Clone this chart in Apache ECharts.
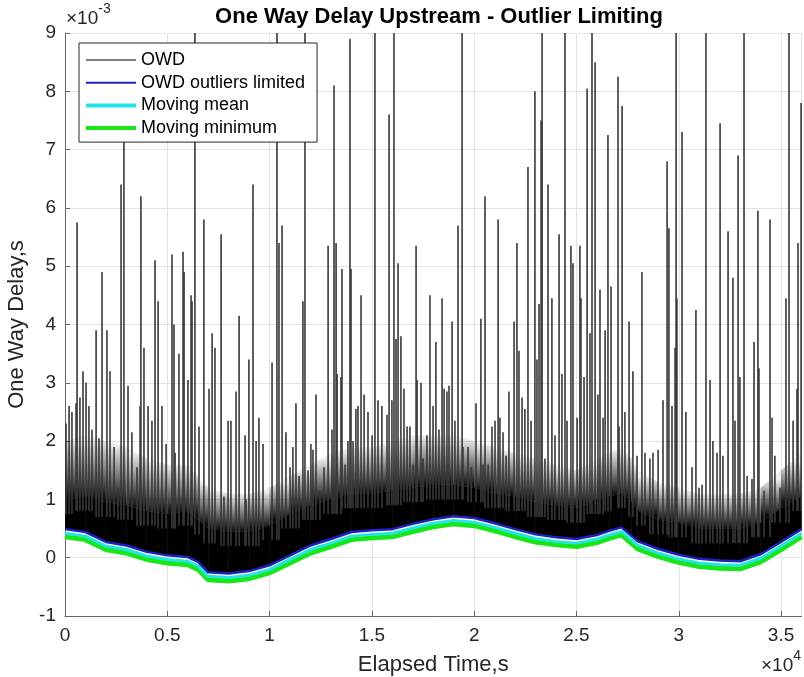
<!DOCTYPE html>
<html>
<head>
<meta charset="utf-8">
<script src="https://cdn.jsdelivr.net/npm/echarts@6/dist/echarts.min.js"></script>
<style>html,body{margin:0;padding:0;background:#fff}#c{width:804px;height:677px}</style>
</head>
<body>
<div id="c"></div>
<script>
// values in units of 1e-3 s (axis shows x10^-3), times in seconds
const curveTimes = [0,1000,2000,3000,4000,5000,6000,6500,7000,8000,9000,10000,11000,12000,13000,14000,15000,16000,17000,18000,19000,20000,21000,22000,23000,24000,25000,26000,26600,27200,27700,28000,29000,30000,31000,32000,33000,34000,35000,36000];
const movingMin = [0.36,0.31,0.14,0.08,-0.03,-0.09,-0.12,-0.2,-0.38,-0.40,-0.36,-0.26,-0.09,0.08,0.19,0.31,0.34,0.36,0.45,0.53,0.58,0.55,0.46,0.36,0.27,0.22,0.19,0.26,0.33,0.39,0.24,0.15,0.02,-0.08,-0.15,-0.18,-0.19,-0.07,0.14,0.36];
const movingMean = [0.42,0.37,0.20,0.14,0.03,-0.03,-0.06,-0.14,-0.32,-0.34,-0.30,-0.20,-0.03,0.14,0.25,0.37,0.40,0.42,0.51,0.59,0.64,0.61,0.52,0.42,0.33,0.28,0.25,0.32,0.39,0.45,0.30,0.21,0.08,-0.02,-0.09,-0.12,-0.13,-0.01,0.20,0.42];
const owdLimited = [0.49,0.44,0.27,0.21,0.10,0.04,0.01,-0.07,-0.25,-0.27,-0.23,-0.13,0.04,0.21,0.32,0.44,0.47,0.49,0.58,0.66,0.71,0.68,0.59,0.49,0.40,0.35,0.32,0.39,0.46,0.52,0.37,0.28,0.15,0.05,-0.02,-0.05,-0.06,0.06,0.27,0.49];
// top of the solid black OWD band, and top of the dense (semi-filled) OWD region
const owdBandTop = [1.0,1.05,0.95,0.9,0.8,0.75,0.8,0.65,0.5,0.45,0.45,0.55,0.75,0.9,1.0,1.1,1.1,1.15,1.2,1.25,1.25,1.2,1.1,1.05,0.95,0.9,0.85,1.0,1.05,1.1,0.95,0.8,0.65,0.6,0.5,0.5,0.5,0.6,0.85,1.05];
const owdDenseTop = [2.0,2.1,2.0,1.9,1.7,1.6,1.6,1.4,1.2,1.1,1.1,1.2,1.4,1.6,1.8,1.9,1.9,2.0,2.1,2.1,2.1,2.0,1.9,1.8,1.7,1.6,1.5,1.7,1.8,1.9,1.7,1.5,1.3,1.2,1.1,1.1,1.1,1.2,1.5,1.8];

const spikeTimes = [50,200,340,540,590,730,880,1030,1170,1320,1520,1660,1810,2050,2200,2400,2590,2740,2880,3080,3270,3520,3670,3710,3860,4060,4250,4400,4550,4740,4940,5230,5330,5380,5570,5770,5820,6010,6160,6210,6350,6550,6790,7040,7190,7330,7630,7770,7970,8110,8360,8510,8800,8850,8990,9190,9340,9480,9680,10120,10360,10460,10610,10800,11000,11140,11290,11440,11630,11730,11880,12020,12120,12270,12460,12660,12860,13050,13150,13250,13300,13490,13540,13690,13830,13930,13980,14080,14220,14320,14470,14620,14810,15010,15150,15300,15490,15740,15840,15980,16080,16180,16280,16420,16570,16720,16860,17010,17160,17210,17400,17500,17690,17840,17990,18130,18280,18430,18530,18670,18770,18920,19060,19210,19410,19450,19700,19850,20090,20330,20430,20530,20680,20870,21020,21170,21260,21410,21560,21700,21950,22090,22190,22340,22480,22630,22780,22970,23070,23170,23270,23320,23460,23610,23800,23950,24150,24290,24440,24540,24730,24830,25030,25170,25220,25370,25520,25660,25760,25910,26050,26150,26300,26400,26540,26690,27030,27080,27230,27370,27570,27760,27960,28200,28350,28590,28740,28990,29230,29430,29520,29670,29820,29870,29910,30160,30350,30650,30840,30990,31140,31330,31530,31670,31870,32020,32160,32410,32650,32750,32900,32990,33190,33340,33580,33680,33870,33920,34170,34460,34560,34700,34950,35240,35390,35590,35780,35830,35980];
const spikeValues = [2.3,2.6,2.5,2.65,5.75,2.75,3.2,3.0,2.6,2.2,3.9,2.05,4.9,3.9,3.2,1.9,1.2,6.4,7.5,2.95,2.15,1.55,2.6,6.2,3.6,2.6,2.35,5.1,4.4,2.6,1.95,5.2,4.0,1.8,3.5,5.25,4.9,3.05,4.5,4.4,9.8,2.25,5.8,2.9,3.85,3.6,5.55,1.05,2.35,2.35,2.85,4.15,2.1,1.0,3.4,6.4,2.0,2.4,1.95,3.35,9.8,5.4,5.7,2.15,1.55,1.9,2.65,1.4,4.4,9.8,1.5,1.95,1.85,2.8,1.15,1.55,5.35,2.2,8.1,5.4,3.15,3.1,4.95,1.6,2.0,8.9,4.95,2.0,2.55,2.6,4.5,2.8,2.5,2.1,9.8,2.7,2.6,2.45,7.6,2.7,9.8,3.75,5.05,3.8,2.9,2.25,2.25,1.6,5.35,3.05,3.0,1.7,2.1,4.5,2.6,3.7,2.2,4.45,2.9,2.85,2.95,4.05,2.35,5.7,9.8,1.9,1.9,1.55,2.65,4.1,1.6,6.2,1.6,2.25,2.35,5.8,2.4,2.15,1.75,2.85,4.05,5.4,3.55,2.75,2.55,6.7,2.35,8.0,3.4,4.35,7.5,9.8,1.7,6.4,4.45,2.1,5.55,3.15,9.8,2.35,5.35,5.05,2.4,5.35,4.45,3.1,8.05,3.85,9.8,8.5,2.8,4.6,2.4,3.9,7.25,4.65,8.25,2.25,7.75,2.5,4.05,3.2,1.75,4.9,1.8,1.7,1.8,1.85,2.7,6.8,5.65,2.6,3.6,9.8,4.45,7.3,2.5,1.55,4.25,1.2,1.25,9.8,3.05,2.0,1.8,7.45,1.75,5.6,4.8,2.35,6.9,3.1,9.8,1.4,1.35,3.7,5.95,3.25,1.15,5.8,2.4,1.75,1.2,4.45,9.8,2.35,2.9,5.4,7.8];

const xTicks = ['0','0.5','1','1.5','2','2.5','3','3.5'];

function nearestIdx(t){let b=0;for(let i=1;i<curveTimes.length;i++){if(Math.abs(curveTimes[i]-t)<Math.abs(curveTimes[b]-t))b=i;}return b;}
const pairs = (vals)=>curveTimes.map((t,i)=>[t,vals[i]]);
const segs = (lo, hi)=>curveTimes.slice(0,-1).map((t,i)=>[t, curveTimes[i+1], lo[i], lo[i+1], hi[i], hi[i+1]]);
const spikeData = spikeTimes.map((t,i)=>[t, owdBandTop[nearestIdx(t)]-0.25, spikeValues[i]]);

function bandItem(fillFn, strokeOn){
  return (params, api)=>{
    const a = api.coord([api.value(0), api.value(2)]);
    const b = api.coord([api.value(1), api.value(3)]);
    const c = api.coord([api.value(1), api.value(5)]);
    const d = api.coord([api.value(0), api.value(4)]);
    const fill = fillFn(a, b, c, d);
    return {type:'polygon', shape:{points:[a,b,c,d]},
      style: strokeOn ? {fill:fill, stroke:fill, lineWidth:0.6} : {fill:fill}};
  };
}
const hazeFill = (a,b,c,d)=>{
  const yBot = (a[1]+b[1])/2, yTop = (c[1]+d[1])/2;
  return new echarts.graphic.LinearGradient(0, yTop, 0, yBot, [
    {offset:0, color:'rgba(0,0,0,0.06)'},{offset:0.5, color:'rgba(0,0,0,0.5)'},{offset:1, color:'rgba(0,0,0,0.95)'}], true);
};

const FONT = '"Liberation Sans", Arial, Helvetica, sans-serif';
const chart = echarts.init(document.getElementById('c'), null, {renderer:'canvas'});
const lineIcon = h => 'path://M0,0h50v'+h+'h-50z';
chart.setOption({
  animation:false,
  backgroundColor:'#fff',
  textStyle:{fontFamily:FONT},
  title:{text:'One Way Delay Upstream - Outlier Limiting', left:434, textAlign:'center', top:1,
    textStyle:{fontFamily:FONT, fontWeight:'bold', fontSize:22, color:'#000'}},
  grid:{left:65, right:2.5, top:33, bottom:61, show:false, containLabel:false, outerBoundsMode:'none'},
  legend:{orient:'vertical', left:79, top:43, padding:[8,12,5,7], itemWidth:50, itemHeight:18, itemGap:4.7,
    backgroundColor:'#fff', borderColor:'#262626', borderWidth:1, selectedMode:false,
    textStyle:{fontFamily:FONT, fontSize:18, lineHeight:18, color:'#000'},
    data:[
      {name:'OWD', icon:lineIcon(1), itemStyle:{color:'#000'}},
      {name:'OWD outliers limited', icon:lineIcon(2), itemStyle:{color:'#2020c0'}},
      {name:'Moving mean', icon:lineIcon(4), itemStyle:{color:'#22e6e6'}},
      {name:'Moving minimum', icon:lineIcon(4), itemStyle:{color:'#19e619'}}
    ]},
  xAxis:{type:'value', min:0, max:36000, interval:5000,
    name:'Elapsed Time,s', nameLocation:'middle', nameGap:38,
    nameTextStyle:{fontFamily:FONT, fontSize:22, color:'#262626'},
    axisLine:{onZero:false, lineStyle:{color:'#666', width:1}},
    axisTick:{inside:true, length:5, lineStyle:{color:'#666'}},
    axisLabel:{fontFamily:FONT, fontSize:19, color:'#262626', margin:10, showMaxLabel:false,
      formatter:(v)=>xTicks[Math.round(v/5000)]},
    splitLine:{show:true, lineStyle:{color:'#e3e3e3', width:1}}},
  yAxis:{type:'value', min:-1, max:9, interval:1,
    name:'One Way Delay,s', nameLocation:'middle', nameGap:28, nameRotate:90,
    nameTextStyle:{fontFamily:FONT, fontSize:22, color:'#262626'},
    axisLine:{show:true, onZero:false, lineStyle:{color:'#666', width:1}},
    axisTick:{show:true, inside:true, length:5, lineStyle:{color:'#666'}},
    axisLabel:{fontFamily:FONT, fontSize:19, color:'#262626', margin:9, formatter:(v)=>String(Math.round(v))},
    splitLine:{show:true, lineStyle:{color:'#e3e3e3', width:1}}},
  graphic:[
    {type:'text', left:66, top:2, style:{text:'{a|×10}{b|-3}', rich:{a:{fontFamily:FONT, fontSize:19, fill:'#262626', padding:[7,0,0,0]}, b:{fontFamily:FONT, fontSize:14, fill:'#262626', verticalAlign:'top', padding:[0,0,9,0]}}}},
    {type:'text', right:3, top:649, style:{text:'{a|×10}{b|4}', rich:{a:{fontFamily:FONT, fontSize:19, fill:'#262626', padding:[7,0,0,0]}, b:{fontFamily:FONT, fontSize:14, fill:'#262626', verticalAlign:'top', padding:[0,0,9,0]}}}}
  ],
  series:[
    {name:'Moving minimum', type:'line', data:pairs(movingMin), showSymbol:false, symbol:'none', z:3,
      lineStyle:{color:'#19e619', width:5}, itemStyle:{color:'#19e619'}},
    {name:'Moving mean', type:'line', data:pairs(movingMean), showSymbol:false, symbol:'none', z:4,
      lineStyle:{color:'#22e6e6', width:3}, itemStyle:{color:'#22e6e6'}},
    {name:'OWD outliers limited', type:'line', data:pairs(owdLimited), showSymbol:false, symbol:'none', z:5,
      lineStyle:{color:'#2020c0', width:2.5}, itemStyle:{color:'#2020c0'}},
    {name:'OWD', type:'custom', data:segs(owdBandTop, owdDenseTop), z:2, clip:true,
      renderItem:bandItem(hazeFill, false), itemStyle:{color:'#000'}},
    {name:'OWD', type:'custom', data:segs(owdLimited, owdBandTop), z:2, clip:true,
      renderItem:bandItem(()=>'#000', true), itemStyle:{color:'#000'}},
    {name:'OWD', type:'custom', data:spikeData, z:2, clip:true,
      renderItem:(params, api)=>{
        const p1 = api.coord([api.value(0), api.value(1)]);
        const p2 = api.coord([api.value(0), api.value(2)]);
        return {type:'line', shape:{x1:p1[0], y1:p1[1], x2:p2[0], y2:p2[1]}, style:{stroke:'#383838', lineWidth:1.6}};
      }, itemStyle:{color:'#000'}}
  ]
});
</script>
</body>
</html>
